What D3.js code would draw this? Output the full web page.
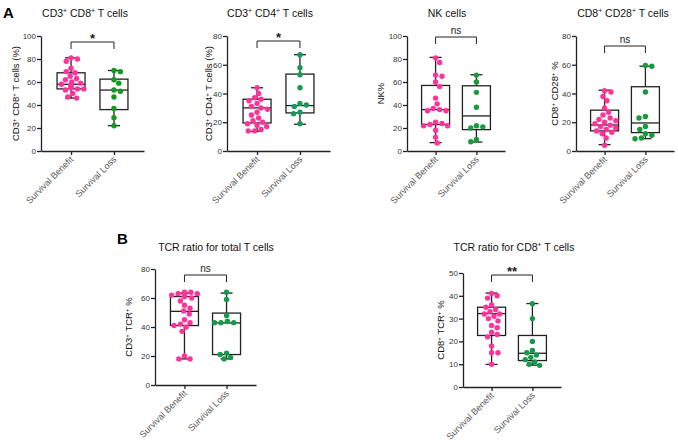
<!DOCTYPE html>
<html>
<head>
<meta charset="utf-8">
<script src="https://cdn.jsdelivr.net/npm/d3@7"></script>
<style>
  body { margin: 0; background: #fff; }
  text { font-family: "Liberation Sans", Arial, sans-serif; }
</style>
</head>
<body>
<div id="chart"></div>
<script>
// groups
var groups = ["Survival Benefit", "Survival Loss"];

// CD3+ CD8+ T cells (%)
var cd8Benefit = [81, 80, 78, 72, 69, 68, 65, 63, 62, 60, 59, 58, 58, 57, 56, 55, 54, 54, 53, 50, 47, 46];
var cd8Loss    = [70, 69, 62, 59, 53, 52, 47, 37, 29, 22];
var cd8BoxBenefit = [46, 54, 58, 68, 81];   // min, q1, median, q3, max
var cd8BoxLoss    = [22, 36, 53, 62.5, 70];

// CD3+ CD4+ T cells (%)
var cd4Benefit = [44, 40, 37, 36, 35, 33, 31, 30, 29, 27, 25, 23, 21, 20, 19, 18, 17, 15, 14, 14];
var cd4Loss    = [67, 58, 53, 44, 33, 32, 31, 27, 26, 19];
var cd4BoxBenefit = [13.7, 19.5, 30, 36, 44];
var cd4BoxLoss    = [18.6, 26.5, 31.6, 53.5, 67];

// NK%
var nkBenefit = [81, 77, 66, 65, 60, 56, 46, 41, 37, 36, 35, 35, 25, 24, 23, 22, 22, 18, 12, 7];
var nkLoss    = [66, 60, 51, 38, 22, 21, 20, 10, 8];
var nkBoxBenefit = [7.3, 23, 36, 57, 81.4];
var nkBoxLoss    = [7.8, 18.6, 30.5, 56.7, 66.3];

// CD8+ CD28+ %
var cd28Benefit = [42, 41, 38, 35, 30, 27, 25, 23, 22, 21, 20, 19, 18, 17, 16, 15, 14, 13, 12, 9, 4];
var cd28Loss    = [59.5, 59, 41, 24, 23, 17, 15, 12, 11, 9, 8.5];
var cd28BoxBenefit = [4.4, 14, 18.1, 28.4, 42.3];
var cd28BoxLoss    = [8.6, 12.8, 19.5, 44.7, 59];

// CD3+ TCR+ %
var tcrBenefit = [64, 64, 63, 63, 62, 62, 61, 61, 60, 58, 55, 53, 51, 49, 45, 43, 42, 41, 40, 37, 20, 18, 18];
var tcrLoss    = [64, 59, 48, 44, 43, 43, 43, 22, 21, 19, 18];
var tcrBoxBenefit = [18, 41, 50.8, 61, 63.4];
var tcrBoxLoss    = [18, 21, 42.8, 49.6, 63.4];

// CD8+ TCR+ %
var tcr8Benefit = [41, 40, 39, 36, 35, 34, 33, 32, 32, 31, 30, 29, 27, 26, 24, 23, 22, 18, 15, 15, 10];
var tcr8Loss    = [36.5, 30, 20, 16, 15, 14, 13, 12, 11, 10, 9.5];
var tcr8BoxBenefit = [9.9, 22.6, 32.2, 35, 41.2];
var tcr8BoxLoss    = [9.6, 11.6, 14.8, 22.6, 36.6];

var titles = ["CD3^+ CD8^+ T cells", "CD3^+ CD4^+ T cells", "NK cells", "CD8^+ CD28^+ T cells",
              "TCR ratio for total T cells", "TCR ratio for CD8^+ T cells"];
var yLabels = ["CD3^+ CD8^+ T cells (%)", "CD3^+ CD4^+ T cells (%)", "NK%", "CD8^+ CD28^+ %",
               "CD3^+ TCR^+ %", "CD8^+ TCR^+ %"];
var yMax = [100, 80, 100, 80, 80, 50];
var yStep = [20, 20, 20, 20, 20, 10];
var signif = ["*", "*", "ns", "ns", "ns", "**"];

var width = 678, height = 446;
var pink = "#ff3399", greens = ["#119a1c", "#16995a", "#18993c", "#18993c", "#16994a", "#16994a"];

var svg = d3.select("#chart")
            .append("svg")
            .attr("width", width)
            .attr("height", height)
            .style("background", "#fff");

// panel placement: axis x, axis right end, y of 0, y of max, title x, title y, label x, bracket y
var layout = [
  {x0: 41,  x1: 144, yb: 151, yt: 36,  tx: 85,  ty: 17,  lx: 16,  by: 42},
  {x0: 227, x1: 330, yb: 151, yt: 36,  tx: 270, ty: 17,  lx: 209, by: 41},
  {x0: 407, x1: 505, yb: 151, yt: 36,  tx: 447, ty: 17,  lx: 381, by: 37},
  {x0: 576, x1: 674, yb: 151, yt: 36,  tx: 623, ty: 17,  lx: 555, by: 46},
  {x0: 155, x1: 256, yb: 385, yt: 269, tx: 216, ty: 251, lx: 129, by: 275},
  {x0: 463, x1: 561, yb: 387, yt: 273, tx: 514, ty: 251, lx: 441, by: 275}
];

var panels = [
  {pts: [cd8Benefit, cd8Loss],   box: [cd8BoxBenefit, cd8BoxLoss]},
  {pts: [cd4Benefit, cd4Loss],   box: [cd4BoxBenefit, cd4BoxLoss]},
  {pts: [nkBenefit, nkLoss],     box: [nkBoxBenefit, nkBoxLoss]},
  {pts: [cd28Benefit, cd28Loss], box: [cd28BoxBenefit, cd28BoxLoss]},
  {pts: [tcrBenefit, tcrLoss],   box: [tcrBoxBenefit, tcrBoxLoss]},
  {pts: [tcr8Benefit, tcr8Loss], box: [tcr8BoxBenefit, tcr8BoxLoss]}
];

// text with ^+ turned into superscripts
function supText(sel, str, size) {
  var parts = str.split("^");
  sel.append("tspan").text(parts[0]);
  for (var i = 1; i < parts.length; i++) {
    sel.append("tspan").attr("dy", -size * 0.38).attr("font-size", size * 0.65).text(parts[i][0]);
    sel.append("tspan").attr("dy", size * 0.38).text(parts[i].slice(1));
  }
}

// simple beeswarm: smallest horizontal shift with no overlap
function swarm(vals, y, r, maxOff) {
  var placed = [];
  return vals.slice().sort(d3.descending).map(function(v, n) {
    var py = y(v), best = 0;
    for (var k = 0; k <= 60; k++) {
      var off = (n % 2 ? 1 : -1) * (k % 2 ? 1 : -1) * Math.ceil(k / 2) * 0.8;
      if (Math.abs(off) > maxOff) continue;
      var ok = placed.every(function(p) {
        return Math.hypot(p[0] - off, p[1] - py) >= r * 2 * 1.08;
      });
      if (ok) { best = off; break; }
    }
    placed.push([best, py]);
    return {v: v, dx: best};
  });
}

var stroke = "#222", sw = 1.3, r = 2.7, boxW = 28;

panels.forEach(function(p, i) {
  var L = layout[i];
  var g = svg.append("g");

  var y = d3.scaleLinear().domain([0, yMax[i]]).range([L.yb, L.yt]);
  var x = d3.scalePoint().domain(groups).range([L.x0, L.x1]).padding(0.7);

  // axes
  g.append("g")
   .attr("transform", "translate(" + L.x0 + ",0)")
   .call(d3.axisLeft(y).tickValues(d3.range(0, yMax[i] + 1, yStep[i])).tickSize(4).tickSizeOuter(0).tickPadding(1))
   .call(function(a) {
     a.select(".domain").attr("stroke", stroke).attr("stroke-width", sw);
     a.selectAll(".tick line").attr("stroke", stroke).attr("stroke-width", sw);
     a.selectAll(".tick text").attr("font-size", 8).attr("fill", "#333")
      .attr("font-family", "'Liberation Sans', Arial, sans-serif");
   });

  g.append("g")
   .attr("transform", "translate(0," + L.yb + ")")
   .call(d3.axisBottom(x).tickSize(4).tickSizeOuter(0).tickFormat(""))
   .call(function(a) {
     a.select(".domain").attr("stroke", stroke).attr("stroke-width", sw);
     a.selectAll(".tick line").attr("stroke", stroke).attr("stroke-width", sw);
   });

  // rotated group labels
  g.selectAll(".glabel")
   .data(groups)
   .enter()
   .append("text")
     .attr("transform", function(d) { return "translate(" + (x(d) + 3) + "," + (L.yb + 9) + ") rotate(-45)"; })
     .attr("text-anchor", "end")
     .attr("font-size", 9)
     .attr("fill", "#555")
     .text(function(d) { return d; });

  // boxes
  groups.forEach(function(gname, j) {
    var b = p.box[j], cx = x(gname);
    g.append("rect")
     .attr("x", cx - boxW / 2).attr("y", y(b[3]))
     .attr("width", boxW).attr("height", y(b[1]) - y(b[3]))
     .attr("fill", "none").attr("stroke", stroke).attr("stroke-width", sw);
    g.append("line").attr("x1", cx - boxW / 2).attr("x2", cx + boxW / 2)
     .attr("y1", y(b[2])).attr("y2", y(b[2])).attr("stroke", stroke).attr("stroke-width", sw);
    [[b[3], b[4]], [b[1], b[0]]].forEach(function(w) {
      g.append("line").attr("x1", cx).attr("x2", cx)
       .attr("y1", y(w[0])).attr("y2", y(w[1])).attr("stroke", stroke).attr("stroke-width", sw);
      g.append("line").attr("x1", cx - 6).attr("x2", cx + 6)
       .attr("y1", y(w[1])).attr("y2", y(w[1])).attr("stroke", stroke).attr("stroke-width", sw);
    });

    g.selectAll(".dot" + j)
     .data(swarm(p.pts[j], y, r, 13))
     .enter()
     .append("circle")
       .attr("cx", function(d) { return cx + d.dx; })
       .attr("cy", function(d) { return y(d.v); })
       .attr("r", r)
       .attr("fill", j === 0 ? pink : greens[i]);
  });

  // significance bracket
  var xa = x(groups[0]), xb = x(groups[1]);
  g.append("path")
   .attr("d", "M" + xa + "," + (L.by + 7) + "V" + L.by + "H" + xb + "V" + (L.by + 7))
   .attr("fill", "none").attr("stroke", stroke).attr("stroke-width", 1);
  var star = signif[i] !== "ns";
  g.append("text")
   .attr("x", (xa + xb) / 2)
   .attr("y", star ? L.by + 1 : L.by - 3)
   .attr("text-anchor", "middle")
   .attr("font-size", star ? 13 : 10)
   .attr("font-weight", star ? "bold" : "normal")
   .attr("fill", "#222")
   .text(signif[i]);

  // title
  g.append("text")
   .attr("x", L.tx).attr("y", L.ty)
   .attr("text-anchor", "middle")
   .attr("font-size", 10.5)
   .attr("fill", "#111")
   .call(supText, titles[i], 10.5);

  // y label
  g.append("text")
   .attr("transform", "translate(" + L.lx + "," + ((L.yb + L.yt) / 2) + ") rotate(-90)")
   .attr("text-anchor", "middle")
   .attr("dy", "0.35em")
   .attr("font-size", 9.5)
   .attr("fill", "#111")
   .call(supText, yLabels[i], 9.5);
});

svg.append("text").attr("x", 3).attr("y", 18).attr("font-size", 15).attr("font-weight", "bold").text("A");
svg.append("text").attr("x", 117).attr("y", 244).attr("font-size", 15).attr("font-weight", "bold").text("B");
</script>
</body>
</html>
